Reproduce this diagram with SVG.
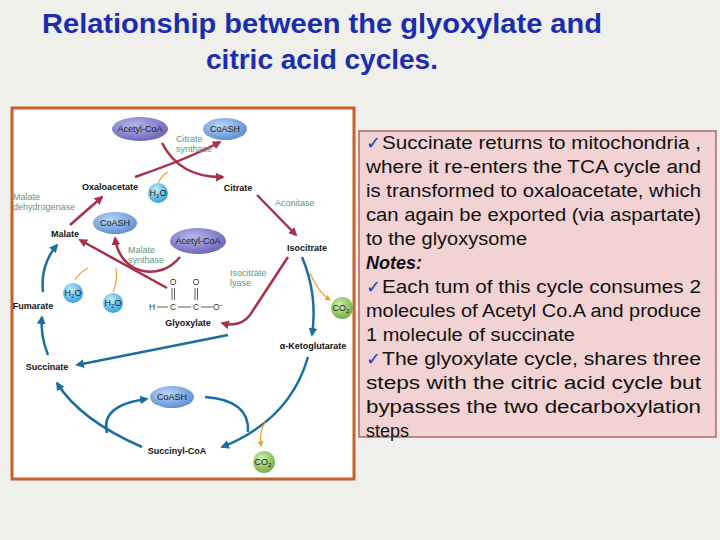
<svg xmlns="http://www.w3.org/2000/svg" width="720" height="540" viewBox="0 0 720 540">
<defs>
<style>
.t{font-family:"Liberation Sans",Arial,sans-serif}
.b{font-family:"Liberation Sans",Arial,sans-serif;font-weight:bold;font-size:9px;fill:#111}
.g{font-family:"Liberation Sans",Arial,sans-serif;font-size:9px;fill:#5a9a7a}
.el{font-family:"Liberation Sans",Arial,sans-serif;font-size:9px;fill:#222;text-anchor:middle}
.r{fill:none;stroke:#a8304a;stroke-width:2.5}
.bl{fill:none;stroke:#1a6fa0;stroke-width:2.5}
.o{fill:none;stroke:#f0a030;stroke-width:1.2}
.body{font-family:"Liberation Sans",Arial,sans-serif;font-size:18px;fill:#111}
.ck{fill:#1a3fc0}
</style>
<marker id="ar" viewBox="0 0 10 10" refX="8" refY="5" markerWidth="3.5" markerHeight="3.5" orient="auto"><path d="M0,0L10,5L0,10z" fill="#a8304a"/></marker>
<marker id="ab" viewBox="0 0 10 10" refX="8" refY="5" markerWidth="3.5" markerHeight="3.5" orient="auto"><path d="M0,0L10,5L0,10z" fill="#1a6fa0"/></marker>
<marker id="ao" viewBox="0 0 10 10" refX="8" refY="5" markerWidth="5" markerHeight="5" orient="auto"><path d="M0,0L10,5L0,10z" fill="#f0a030"/></marker>
<radialGradient id="pu" cx="40%" cy="35%" r="70%"><stop offset="0" stop-color="#b8b8ec"/><stop offset="1" stop-color="#6a62b8"/></radialGradient>
<radialGradient id="bu" cx="40%" cy="35%" r="70%"><stop offset="0" stop-color="#b8d8f8"/><stop offset="1" stop-color="#5a8ad0"/></radialGradient>
<radialGradient id="cy" cx="40%" cy="35%" r="70%"><stop offset="0" stop-color="#c8f0ff"/><stop offset="1" stop-color="#2a9ad8"/></radialGradient>
<radialGradient id="gr" cx="40%" cy="35%" r="70%"><stop offset="0" stop-color="#d8f0b0"/><stop offset="1" stop-color="#6aaa40"/></radialGradient>
</defs>
<rect width="720" height="540" fill="#efefeb"/>
<g id="title" class="t" font-weight="bold" font-size="28" fill="#1a2db0" text-anchor="middle">
<text x="322" y="33" textLength="560" lengthAdjust="spacingAndGlyphs">Relationship between the glyoxylate and</text>
<text x="322" y="69">citric acid cycles.</text>
</g>
<rect x="12" y="108" width="342" height="371" fill="#fff" stroke="#c8602a" stroke-width="3"/>
<g id="connectors">
<path class="r" d="M162,143 Q180,178 223,177" marker-end="url(#ar)"/>
<path class="r" d="M135,177 Q190,158 220,142" marker-end="url(#ar)"/>
<path class="o" d="M158,183 Q162,175 168,172"/>
<path class="r" d="M257,195 L296,235" marker-end="url(#ar)"/>
<path class="r" d="M70,225 L102,197" marker-end="url(#ar)"/>
<path class="r" d="M167,288 L80,240" marker-end="url(#ar)"/>
<path class="r" d="M180,257 C160,282 120,275 115,238" marker-end="url(#ar)"/>
<path class="o" d="M113,292 Q118,280 116,268"/>
<path class="o" d="M75,280 Q80,272 88,268"/>
<path class="r" d="M288,257 L250,315 Q240,328 222,323" marker-end="url(#ar)"/>
<path class="bl" d="M302,257 Q318,295 312,335" marker-end="url(#ab)"/>
<path class="o" d="M310,273 Q318,292 330,300" marker-end="url(#ao)"/>
<path class="bl" d="M308,357 Q290,420 222,447" marker-end="url(#ab)"/>
<path class="o" d="M265,422 Q259,432 261,446" marker-end="url(#ao)"/>
<path class="bl" d="M142,447 Q80,420 57,383" marker-end="url(#ab)"/>
<path class="bl" d="M107,433 Q100,405 147,399" marker-end="url(#ab)"/>
<path class="bl" d="M205,397 Q250,400 248,432"/>
<path class="bl" d="M48,355 Q40,335 42,317" marker-end="url(#ab)"/>
<path class="bl" d="M43,292 Q40,265 57,245" marker-end="url(#ab)"/>
<path class="bl" d="M228,335 L77,365" marker-end="url(#ab)"/>
</g>
<g id="acetylcoa-top"><ellipse cx="140" cy="129" rx="28" ry="12" fill="url(#pu)"/><text class="el" x="140" y="132">Acetyl-CoA</text></g>
<g id="coash-top"><ellipse cx="225" cy="129" rx="22" ry="11" fill="url(#bu)"/><text class="el" x="225" y="132">CoASH</text></g>
<g id="citrate-synthase"><text class="g" x="176" y="142">Citrate</text><text class="g" x="176" y="152">synthase</text></g>
<g id="oxaloacetate"><text class="b" x="110" y="190" text-anchor="middle">Oxaloacetate</text></g>
<g id="h2o-1"><circle cx="158" cy="193" r="10" fill="url(#cy)"/><text class="el" x="158" y="196">H<tspan font-size="6" dy="2">2</tspan><tspan dy="-2">O</tspan></text></g>
<g id="citrate"><text class="b" x="238" y="191" text-anchor="middle">Citrate</text></g>
<g id="aconitase"><text class="g" x="275" y="206">Aconitase</text></g>
<g id="malate-dh"><text class="g" x="13" y="200">Malate</text><text class="g" x="13" y="210">dehydrogenase</text></g>
<g id="coash-left"><ellipse cx="115" cy="223" rx="22" ry="11" fill="url(#bu)"/><text class="el" x="115" y="226">CoASH</text></g>
<g id="acetylcoa-mid"><ellipse cx="198" cy="241" rx="28" ry="13" fill="url(#pu)"/><text class="el" x="198" y="244">Acetyl-CoA</text></g>
<g id="malate"><text class="b" x="65" y="237" text-anchor="middle">Malate</text></g>
<g id="malate-synthase"><text class="g" x="128" y="253">Malate</text><text class="g" x="128" y="263">synthase</text></g>
<g id="isocitrate"><text class="b" x="307" y="251" text-anchor="middle">Isocitrate</text></g>
<g id="isocitrate-lyase"><text class="g" x="230" y="276">Isocitrate</text><text class="g" x="230" y="286">lyase</text></g>
<g id="h2o-2"><circle cx="73" cy="293" r="10" fill="url(#cy)"/><text class="el" x="73" y="296">H<tspan font-size="6" dy="2">2</tspan><tspan dy="-2">O</tspan></text></g>
<g id="h2o-3"><circle cx="113" cy="303" r="10" fill="url(#cy)"/><text class="el" x="113" y="306">H<tspan font-size="6" dy="2">2</tspan><tspan dy="-2">O</tspan></text></g>
<g id="fumarate"><text class="b" x="33" y="309" text-anchor="middle">Fumarate</text></g>
<g id="glyoxylate" font-family="Liberation Sans,Arial,sans-serif" font-size="8.5" fill="#333">
<text x="173" y="285" text-anchor="middle">O</text><text x="196" y="285" text-anchor="middle">O</text>
<line x1="172" y1="288" x2="172" y2="300" stroke="#333" stroke-width="0.8"/><line x1="174.5" y1="288" x2="174.5" y2="300" stroke="#333" stroke-width="0.8"/>
<line x1="195" y1="288" x2="195" y2="300" stroke="#333" stroke-width="0.8"/><line x1="197.5" y1="288" x2="197.5" y2="300" stroke="#333" stroke-width="0.8"/>
<text x="152" y="310" text-anchor="middle">H</text><text x="173" y="310" text-anchor="middle">C</text><text x="196" y="310" text-anchor="middle">C</text><text x="218" y="310" text-anchor="middle">O<tspan font-size="6" dy="-3">−</tspan></text>
<line x1="157" y1="307" x2="168" y2="307" stroke="#333" stroke-width="0.8"/><line x1="178" y1="307" x2="191" y2="307" stroke="#333" stroke-width="0.8"/><line x1="201" y1="307" x2="213" y2="307" stroke="#333" stroke-width="0.8"/>
<text class="b" x="188" y="326" text-anchor="middle">Glyoxylate</text></g>
<g id="co2-right"><circle cx="342" cy="308" r="11" fill="url(#gr)"/><text class="el" x="341" y="311">CO<tspan font-size="6" dy="2">2</tspan></text></g>
<g id="akg"><text class="b" x="313" y="349" text-anchor="middle">α-Ketoglutarate</text></g>
<g id="succinate"><text class="b" x="47" y="370" text-anchor="middle">Succinate</text></g>
<g id="coash-bottom"><ellipse cx="172" cy="397" rx="22" ry="11" fill="url(#bu)"/><text class="el" x="172" y="400">CoASH</text></g>
<g id="succinylcoa"><text class="b" x="177" y="454" text-anchor="middle">Succinyl-CoA</text></g>
<g id="co2-bottom"><circle cx="264" cy="462" r="11" fill="url(#gr)"/><text class="el" x="263" y="465">CO<tspan font-size="6" dy="2">2</tspan></text></g>
<g id="notes">
<rect x="359" y="131" width="357" height="306" fill="#f2d2d2" stroke="#a04848" stroke-width="1.2"/>
<text class="body" y="149"><tspan class="ck" x="366">✓</tspan><tspan x="382" textLength="319" lengthAdjust="spacingAndGlyphs">Succinate returns to mitochondria ,</tspan></text>
<text class="body" x="366" y="173" textLength="335" lengthAdjust="spacingAndGlyphs">where it re-enters the TCA cycle and</text>
<text class="body" x="366" y="197" textLength="335" lengthAdjust="spacingAndGlyphs">is transformed to oxaloacetate, which</text>
<text class="body" x="366" y="221" textLength="335" lengthAdjust="spacingAndGlyphs">can again be exported (via aspartate)</text>
<text class="body" x="366" y="245" textLength="161" lengthAdjust="spacingAndGlyphs">to the glyoxysome</text>
<text class="body" x="366" y="269" font-weight="bold" font-style="italic" fill="#1a1ac8">Notes:</text>
<text class="body" y="293"><tspan class="ck" x="366">✓</tspan><tspan x="382" textLength="319" lengthAdjust="spacingAndGlyphs">Each tum of this cycle consumes 2</tspan></text>
<text class="body" x="366" y="317" textLength="335" lengthAdjust="spacingAndGlyphs">molecules of Acetyl Co.A and produce</text>
<text class="body" x="366" y="341" textLength="209" lengthAdjust="spacingAndGlyphs">1 molecule of succinate</text>
<text class="body" y="365"><tspan class="ck" x="366">✓</tspan><tspan x="382" textLength="319" lengthAdjust="spacingAndGlyphs">The glyoxylate cycle, shares three</tspan></text>
<text class="body" x="366" y="389" textLength="335" lengthAdjust="spacingAndGlyphs">steps with the citric acid cycle but</text>
<text class="body" x="366" y="413" textLength="335" lengthAdjust="spacingAndGlyphs">bypasses the two decarboxylation</text>
<text class="body" x="366" y="437">steps</text>
</g>
</svg>
